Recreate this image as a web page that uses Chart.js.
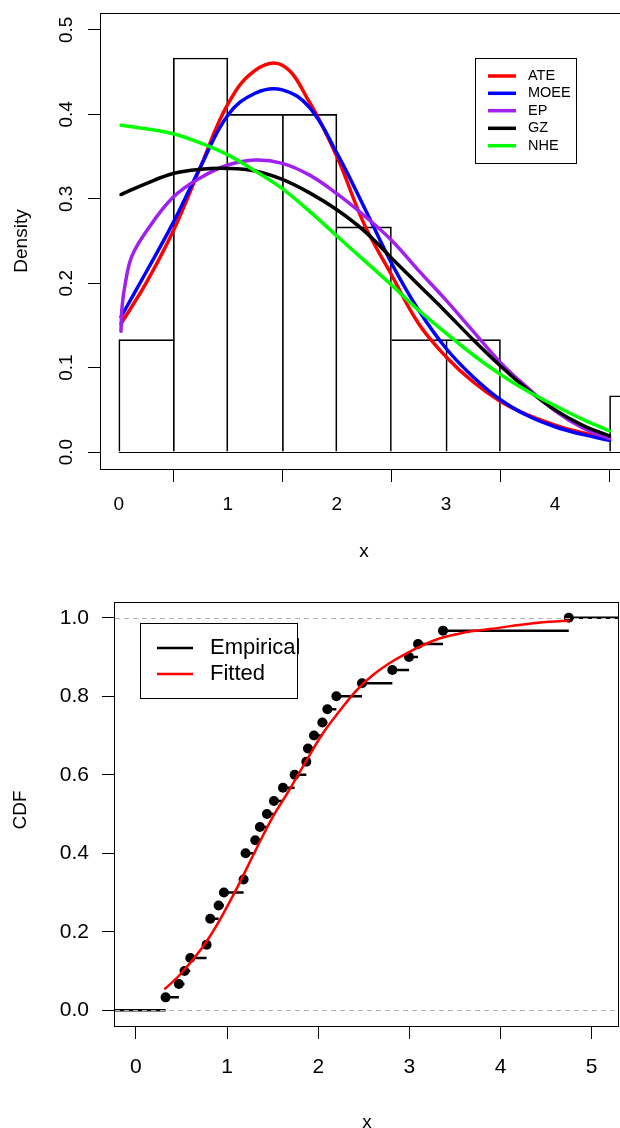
<!DOCTYPE html>
<html>
<head>
<meta charset="utf-8">
<script src="https://cdn.jsdelivr.net/npm/chart.js@4.4.1/dist/chart.umd.min.js"></script>
<style>
  html, body { margin: 0; padding: 0; background: #fff; overflow: hidden; }
  #wrap { position: relative; width: 620px; height: 1128px; overflow: hidden; }
  canvas { position: absolute; left: 0; }
  #densChart { top: 0; }
  #cdfChart { top: 580px; }
</style>
</head>
<body>
<div id="wrap">
  <canvas id="densChart" width="640" height="580"></canvas>
  <canvas id="cdfChart" width="640" height="548"></canvas>
</div>
<script>
// ---- top panel: histogram + fitted densities
const histBreaks = [0, 0.5, 1, 1.5, 2, 2.5, 3, 3.5, 4, 4.5, 5];
const histDensity = [0.1333, 0.4667, 0.4, 0.4, 0.2667, 0.1333, 0.1333, 0, 0, 0.0667];

const densX = [0.02, 0.25, 0.5, 0.75, 1, 1.25, 1.5, 1.75, 2, 2.25, 2.5, 2.75, 3, 3.25, 3.5, 3.75, 4, 4.25, 4.5];
const ateY  = [0.152, 0.200, 0.262, 0.338, 0.412, 0.452, 0.458, 0.414, 0.350, 0.270, 0.210, 0.152, 0.113, 0.083, 0.060, 0.044, 0.032, 0.023, 0.016];
const moeeY = [0.160, 0.213, 0.272, 0.338, 0.399, 0.425, 0.429, 0.408, 0.354, 0.290, 0.224, 0.168, 0.123, 0.089, 0.062, 0.043, 0.030, 0.021, 0.014];
const gzY   = [0.305, 0.318, 0.330, 0.335, 0.336, 0.333, 0.323, 0.307, 0.287, 0.262, 0.230, 0.198, 0.166, 0.133, 0.102, 0.074, 0.050, 0.032, 0.019];
const nheY  = [0.387, 0.383, 0.377, 0.366, 0.352, 0.333, 0.312, 0.285, 0.256, 0.227, 0.198, 0.168, 0.141, 0.115, 0.092, 0.072, 0.055, 0.039, 0.025];
// EP rises sharply near zero, so it gets a denser grid there
const epX   = [0.02, 0.03, 0.06, 0.12, 0.25, 0.5, 0.75, 1, 1.25, 1.5, 1.75, 2, 2.25, 2.5, 2.75, 3, 3.25, 3.5, 3.75, 4, 4.25, 4.5];
const epY   = [0.143, 0.172, 0.200, 0.232, 0.261, 0.302, 0.325, 0.340, 0.346, 0.342, 0.328, 0.306, 0.280, 0.251, 0.215, 0.180, 0.143, 0.106, 0.076, 0.049, 0.029, 0.016];

const densXTicks = [0, 1, 2, 3, 4];
const densYTicks = [0, 0.1, 0.2, 0.3, 0.4, 0.5];

// ---- bottom panel: empirical vs fitted CDF
const ecdfX = [0.325, 0.471, 0.533, 0.596, 0.775, 0.815, 0.907, 0.965, 1.181, 1.203, 1.309, 1.36, 1.437, 1.514,
  1.613, 1.741, 1.869, 1.887, 1.953, 2.045, 2.1, 2.199, 2.48, 2.813, 2.996, 3.095, 3.369, 4.749];
const ecdfY = [0.033, 0.067, 0.1, 0.133, 0.167, 0.233, 0.267, 0.3, 0.333, 0.4, 0.433, 0.467, 0.5, 0.533,
  0.567, 0.6, 0.633, 0.667, 0.7, 0.733, 0.767, 0.8, 0.833, 0.867, 0.9, 0.933, 0.967, 1.0];
const fitX = [0.32, 0.5, 0.78, 1.06, 1.32, 1.5, 1.69, 1.87, 2.05, 2.24, 2.42, 2.6, 2.78, 2.97, 3.15, 3.33, 3.52, 3.7, 3.88, 4.36, 4.74];
const fitY = [0.055, 0.095, 0.177, 0.29, 0.411, 0.492, 0.564, 0.636, 0.705, 0.764, 0.815, 0.854, 0.884, 0.909, 0.93, 0.947, 0.958, 0.966, 0.971, 0.986, 0.992];

const cdfXTicks = [0, 1, 2, 3, 4, 5];
const cdfYTicks = [0, 0.2, 0.4, 0.6, 0.8, 1];
const cdfXRange = [-0.23, 5.3];

const FONT = '"Liberation Sans", Arial, Helvetica, sans-serif';

const pts = (xs, ys) => xs.map((v, i) => ({ x: v, y: ys[i] }));

// R-like frame, tick labels, titles, legend
const rFrame = {
  id: 'rFrame',
  afterDatasetsDraw(chart, args, o) {
    const { ctx, chartArea: a, scales: { x, y } } = chart;
    ctx.save();
    ctx.beginPath();
    ctx.rect(a.left, a.top, a.right - a.left, a.bottom - a.top);
    ctx.clip();
    if (o.baseline) {
      const py = Math.round(y.getPixelForValue(0)) + 0.5;
      ctx.strokeStyle = '#000';
      ctx.lineWidth = 1;
      ctx.beginPath();
      ctx.moveTo(x.getPixelForValue(o.baseline[0]), py);
      ctx.lineTo(x.getPixelForValue(o.baseline[1]), py);
      ctx.stroke();
    }
    if (o.refLines) {
      ctx.strokeStyle = '#b3b3b3';
      ctx.lineWidth = 1;
      ctx.setLineDash([5, 4]);
      o.refLines.forEach(v => {
        const py = Math.round(y.getPixelForValue(v)) + 0.5;
        ctx.beginPath();
        ctx.moveTo(a.left, py);
        ctx.lineTo(a.right, py);
        ctx.stroke();
      });
    }
    ctx.restore();
  },
  afterDraw(chart, args, o) {
    const { ctx, chartArea: a, scales: { x, y } } = chart;
    ctx.save();
    ctx.strokeStyle = '#000';
    ctx.lineWidth = 1;
    ctx.strokeRect(Math.round(a.left) - 0.5, Math.round(a.top) + 0.5,
      Math.round(a.right - a.left), Math.round(a.bottom - a.top));

    ctx.fillStyle = '#000';
    ctx.textBaseline = 'middle';
    ctx.font = o.tickSize + 'px ' + FONT;
    ctx.textAlign = 'center';
    x.ticks.forEach(t => ctx.fillText(String(t.value), x.getPixelForValue(t.value), o.xLabelY));
    y.ticks.forEach(t => {
      const py = y.getPixelForValue(t.value);
      const s = t.value.toFixed(1);
      if (o.rotateY) {
        ctx.save();
        ctx.translate(o.yLabelX, py);
        ctx.rotate(-Math.PI / 2);
        ctx.textAlign = 'center';
        ctx.fillText(s, 0, 0);
        ctx.restore();
      } else {
        ctx.textAlign = 'right';
        ctx.fillText(s, o.yLabelX, py);
      }
    });

    ctx.font = o.titleSize + 'px ' + FONT;
    ctx.textAlign = 'center';
    ctx.fillText(o.xTitle, (a.left + a.right) / 2 + o.xTitleDx, o.xTitleY);
    ctx.save();
    ctx.translate(o.yTitleX, (a.top + a.bottom) / 2 + o.yTitleDy);
    ctx.rotate(-Math.PI / 2);
    ctx.fillText(o.yTitle, 0, 0);
    ctx.restore();

    // legend
    const L = o.legend;
    ctx.strokeRect(L.box[0] + 0.5, L.box[1] + 0.5, L.box[2], L.box[3]);
    ctx.font = L.size + 'px ' + FONT;
    ctx.textAlign = 'left';
    const items = chart.data.datasets.filter(d => d.label);
    items.forEach((d, i) => {
      const ry = L.rows[i];
      ctx.strokeStyle = d.borderColor;
      ctx.lineWidth = L.lw;
      ctx.beginPath();
      ctx.moveTo(L.line[0], ry);
      ctx.lineTo(L.line[1], ry);
      ctx.stroke();
      ctx.fillText(d.label, L.textX, ry);
    });
    ctx.restore();
  }
};

function rAxis(ticks, min, max, size) {
  return {
    type: 'linear',
    min: min,
    max: max,
    offset: false,
    border: { display: false },
    grid: { display: true, drawOnChartArea: false, drawTicks: true, tickLength: 13, color: '#000', lineWidth: 1 },
    ticks: { display: false },
    afterBuildTicks: (s) => { s.ticks = ticks.map(v => ({ value: v })); },
    afterFit: (s) => { if (s.isHorizontal()) s.height = size; else s.width = size; }
  };
}

const curve = (label, xs, ys, color, order) => ({
  type: 'line',
  label: label,
  data: pts(xs, ys),
  borderColor: color,
  borderWidth: 3.5,
  borderCapStyle: 'round',
  pointRadius: 0,
  fill: false,
  tension: 0.4,
  order: order
});

new Chart(document.getElementById('densChart'), {
  type: 'line',
  data: {
    datasets: [
      {
        type: 'bar',
        data: histDensity.map((d, i) => ({ x: (histBreaks[i] + histBreaks[i + 1]) / 2, y: d })),
        backgroundColor: 'rgba(0,0,0,0)',
        borderColor: '#000',
        borderSkipped: false,
        borderWidth: (c) => {
          const i = c.dataIndex, d = histDensity;
          const prev = i > 0 ? d[i - 1] : 0;
          const next = i < d.length - 1 ? d[i + 1] : 0;
          return { top: 1, bottom: 0, left: d[i] >= prev ? 1 : 0, right: d[i] > next ? 1 : 0 };
        },
        barPercentage: 1,
        categoryPercentage: 1,
        order: 10
      },
      curve('ATE', densX, ateY, '#ff0000', 5),
      curve('MOEE', densX, moeeY, '#0000ff', 4),
      curve('EP', epX, epY, '#a020f0', 3),
      curve('GZ', densX, gzY, '#000000', 2),
      curve('NHE', densX, nheY, '#00ff00', 1)
    ]
  },
  options: {
    responsive: false,
    animation: false,
    devicePixelRatio: 1,
    events: [],
    layout: { padding: { left: 0, top: 13, right: 13, bottom: 0 } },
    scales: {
      x: rAxis(densXTicks, -0.163, 4.66, 111),
      y: rAxis(densYTicks, -0.02, 0.52, 101)
    },
    plugins: {
      legend: { display: false },
      tooltip: { enabled: false },
      rFrame: {
        baseline: [histBreaks[0], histBreaks[histBreaks.length - 1]],
        tickSize: 19, xLabelY: 505, yLabelX: 67, rotateY: true,
        titleSize: 19, xTitle: 'x', xTitleY: 552, xTitleDx: 0,
        yTitle: 'Density', yTitleX: 22, yTitleDy: 0,
        legend: { box: [475, 58, 101, 105], line: [488, 516], textX: 528, rows: [76, 93.3, 110.7, 128.3, 145.7], size: 14.5, lw: 3.5 }
      }
    }
  },
  plugins: [rFrame]
});

// step segments of the empirical CDF (no verticals)
const stepData = [{ x: cdfXRange[0], y: 0 }, { x: ecdfX[0], y: 0 }, { x: ecdfX[0], y: null }];
ecdfX.forEach((v, i) => {
  const end = i < ecdfX.length - 1 ? ecdfX[i + 1] : cdfXRange[1];
  stepData.push({ x: v, y: ecdfY[i] }, { x: end, y: ecdfY[i] }, { x: end, y: null });
});

new Chart(document.getElementById('cdfChart'), {
  type: 'line',
  data: {
    datasets: [
      {
        label: 'Empirical',
        data: stepData,
        borderColor: '#000000',
        borderWidth: 2.5,
        pointRadius: 0,
        spanGaps: false,
        order: 4
      },
      {
        type: 'scatter',
        data: pts(ecdfX, ecdfY),
        showLine: false,
        pointRadius: 5,
        pointBackgroundColor: '#000',
        pointBorderWidth: 0,
        order: 3
      },
      {
        label: 'Fitted',
        data: pts(fitX, fitY),
        borderColor: '#ff0000',
        borderWidth: 2.5,
        borderCapStyle: 'round',
        pointRadius: 0,
        tension: 0.4,
        order: 2
      }
    ]
  },
  options: {
    responsive: false,
    animation: false,
    devicePixelRatio: 1,
    events: [],
    layout: { padding: { left: 0, top: 22, right: 21, bottom: 0 } },
    scales: {
      x: rAxis(cdfXTicks, cdfXRange[0], cdfXRange[1], 102),
      y: rAxis(cdfYTicks, -0.04, 1.04, 115)
    },
    plugins: {
      legend: { display: false },
      tooltip: { enabled: false },
      rFrame: {
        refLines: [0, 1],
        tickSize: 21, xLabelY: 487, yLabelX: 89, rotateY: false,
        titleSize: 19, xTitle: 'x', xTitleY: 543, xTitleDx: 0,
        yTitle: 'CDF', yTitleX: 21, yTitleDy: -4,
        legend: { box: [140, 43, 157, 75], line: [157, 193], textX: 210, rows: [68, 94], size: 22, lw: 2.5 }
      }
    }
  },
  plugins: [rFrame]
});
</script>
</body>
</html>
